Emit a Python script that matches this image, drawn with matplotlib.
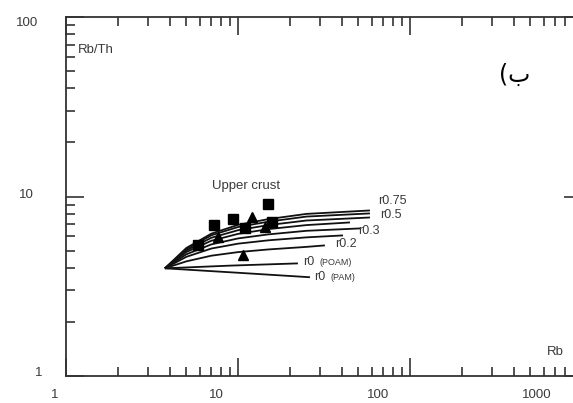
import matplotlib
matplotlib.use("Agg")
import matplotlib.pyplot as plt
from matplotlib.ticker import LogLocator, NullFormatter

plt.rcParams['font.family'] = ['Liberation Sans', 'DejaVu Sans']

# ---- data ----
sq_rb = [5.85, 7.25, 9.35, 14.9, 11.0, 15.8]
sq_ratio = [5.34, 6.90, 7.45, 9.03, 6.64, 7.17]
tri_rb = [12.1, 10.7, 7.65, 14.4]
tri_ratio = [7.64, 4.70, 5.92, 6.73]

curve_rb = [
    [3.76, 5, 7, 10, 15, 25, 58.5],
    [3.76, 5, 7, 10, 15, 25, 58.5],
    [3.76, 5, 7, 10, 15, 25, 58.5],
    [3.76, 5, 7, 10, 15, 25, 44.8],
    [3.76, 5, 7, 10, 15, 25, 51.2],
    [3.76, 5, 7, 10, 15, 25, 40.8],
    [3.76, 5, 7, 10, 15, 25, 32.0],
    [3.76, 9.0, 22.3],
    [3.76, 10.0, 26.2],
]
curve_ratio = [
    [3.98, 5.16, 6.21, 6.95, 7.48, 8.00, 8.36],
    [3.98, 5.09, 6.08, 6.76, 7.24, 7.73, 8.05],
    [3.98, 5.00, 5.89, 6.49, 6.93, 7.35, 7.64],
    [3.98, 4.90, 5.67, 6.19, 6.58, 6.93, 7.17],
    [3.98, 4.76, 5.41, 5.84, 6.15, 6.44, 6.64],
    [3.98, 4.61, 5.13, 5.46, 5.70, 5.92, 6.07],
    [3.98, 4.35, 4.68, 4.90, 5.07, 5.24, 5.34],
    [3.98, 4.12, 4.24],
    [3.98, 3.76, 3.55],
]

curve_labels = ["r0.75", "r0.5", "r0.3", "r0.2"]
curve_label_rb = [65.2, 66.9, 50.0, 36.6]
curve_label_ratio = [9.38, 7.84, 6.39, 5.41]
r0_labels = ["r0", "r0"]
r0_sub = ["(POAM)", "(PAM)"]
r0_label_rb = [23.9, 27.7]
r0_label_ratio = [4.30, 3.55]

xtick_labels = ["1", "10", "100", "1000"]
ytick_labels = ["100", "10", "1"]

# ---- figure ----
fig = plt.figure(figsize=(5.73, 4.03), dpi=100)
ax = fig.add_axes([66/573, 27/403, 516/573, 359/403])
ax.set_xscale('log')
ax.set_yscale('log')
ax.set_xlim(1, 1000)
ax.set_ylim(1, 100)

for rb, ra in zip(curve_rb, curve_ratio):
    ax.plot(rb, ra, color='#111111', lw=1.3, solid_capstyle='butt', zorder=2)

ax.plot(sq_rb, sq_ratio, 's', color='black', ms=7.5, zorder=3)
ax.plot(tri_rb, tri_ratio, '^', color='black', ms=7.5, zorder=3)

tc = '#3a3a3a'
for t, x, y in zip(curve_labels, curve_label_rb, curve_label_ratio):
    ax.text(x, y, t, fontsize=9, color=tc, ha='left', va='center', zorder=4)
for t, s, x, y in zip(r0_labels, r0_sub, r0_label_rb, r0_label_ratio):
    ax.text(x, y, t, fontsize=9, color=tc, ha='left', va='center', zorder=4)
    ax.annotate(s, (x, y), xytext=(12, 0), textcoords='offset points',
                fontsize=6.5, color=tc, ha='left', va='center')

ax.text(11.1, 11.5, "Upper crust", fontsize=9.5, color=tc, ha='center', va='center')

ax.text(0.023, 0.908, "Rb/Th", transform=ax.transAxes, fontsize=9.5, color=tc,
        ha='left', va='center')
ax.text(0.948, 0.067, "Rb", transform=ax.transAxes, fontsize=9.5, color=tc,
        ha='center', va='center')
ax.text(0.870, 0.838, "(ب", transform=ax.transAxes, fontsize=17, color='black',
        ha='center', va='center', family=['DejaVu Sans'])

# ticks
ax.xaxis.set_major_locator(LogLocator(base=10, numticks=10))
ax.xaxis.set_minor_locator(LogLocator(base=10, subs=range(2, 10), numticks=20))
ax.yaxis.set_major_locator(LogLocator(base=10, numticks=10))
ax.yaxis.set_minor_locator(LogLocator(base=10, subs=range(2, 10), numticks=20))
ax.xaxis.set_minor_formatter(NullFormatter())
ax.yaxis.set_minor_formatter(NullFormatter())
ax.tick_params(which='both', direction='in', top=True, right=True,
               labelbottom=False, labelleft=False, color='#333333', width=1.2)
ax.tick_params(which='major', length=13)
ax.tick_params(which='minor', length=6.5)
for sp in ax.spines.values():
    sp.set_linewidth(1.3)
    sp.set_color('#333333')

xpos = [-0.021, 0.291, 0.605, 0.913]
for t, x in zip(xtick_labels, xpos):
    ax.text(x, -0.053, t, transform=ax.transAxes, fontsize=9.5, color=tc,
            ha='center', va='center', clip_on=False)
ypos = [(-0.054, 0.983), (-0.062, 0.504), (-0.045, 0.008)]
for t, (x, y) in zip(ytick_labels, ypos):
    ax.text(x, y, t, transform=ax.transAxes, fontsize=9.5, color=tc,
            ha='right', va='center', clip_on=False)

fig.savefig("out.png", dpi=100)
